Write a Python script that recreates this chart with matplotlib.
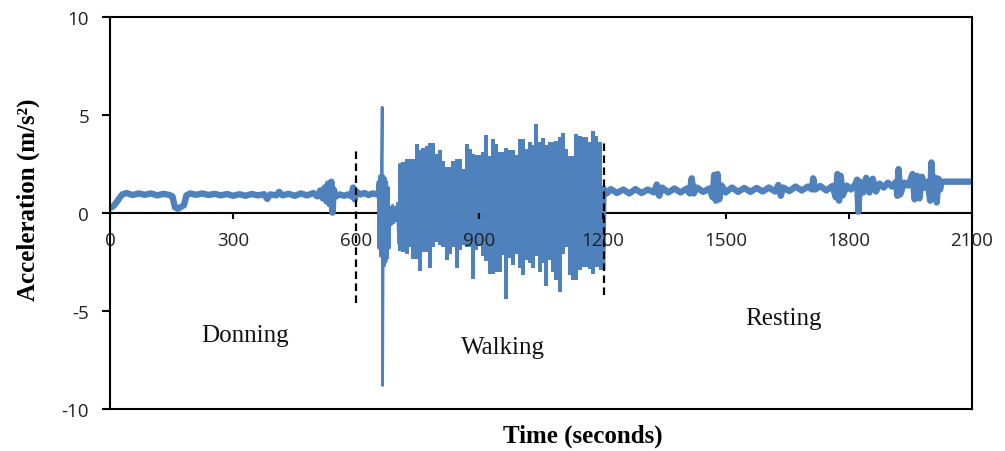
import numpy as np
import matplotlib
matplotlib.use("Agg")
import matplotlib.pyplot as plt

plt.rcParams["axes.unicode_minus"] = False
plt.rcParams["path.simplify"] = False

# ---------------- data ----------------
# Donning phase (time in s, acceleration in m/s^2)
donning_time = [0, 8, 16, 24, 30, 40, 55, 70, 85, 100, 115, 130, 145, 152, 158, 165,
                172, 180, 186, 195, 210, 225, 240, 255, 270, 285, 300, 315, 330, 345,
                360, 375, 383, 390, 405, 412, 420, 435, 450, 465, 480, 495, 505, 512,
                518, 523, 527, 531, 535, 539, 542, 545, 550, 560, 570, 580, 588, 592,
                596, 600, 610, 620, 630, 640, 650]
donning_accel = [0.25, 0.35, 0.55, 0.8, 0.95, 1.02, 0.92, 1.0, 0.93, 1.0, 0.9, 0.98, 0.92,
                 0.85, 0.3, 0.22, 0.3, 0.4, 0.9, 1.0, 0.93, 1.0, 0.92, 0.98, 0.9, 0.97,
                 0.88, 0.96, 0.88, 0.97, 0.9, 0.96, 0.72, 0.95, 0.9, 1.08, 0.9, 0.98,
                 0.88, 1.0, 0.9, 1.02, 0.85, 1.15, 0.75, 1.3, 0.6, 1.5, 0.45, 1.6, 0.02,
                 1.2, 0.85, 0.95, 0.88, 0.95, 0.85, 1.3, 0.7, 1.1, 0.95, 1.02, 0.92,
                 1.0, 0.95]

# Transition burst before steady walking
transition_time = [650, 653, 655, 657, 659, 661, 663, 664, 666, 668, 670, 672, 674, 676,
                   678, 680, 682, 685, 688, 691, 694, 697, 700, 703]
transition_accel = [0.95, 1.6, -1.8, 1.9, -2.2, 1.5, 5.4, -8.8, 1.9, -2.7, 1.8, -2.5, 1.6,
                    -2.3, 1.3, -1.8, 0.3, -0.6, 0.4, -0.5, 0.3, -0.4, 0.5, -1.5]

# Walking phase: peak (high) and trough (low) per ~8 s window
walk_start, walk_step = 706.0, 8.12
walk_high = [2.5, 2.6, 2.75, 2.75, 2.75, 3.5, 3.2, 3.3, 3.4, 3.55, 3.55, 3.0, 3.2, 2.67,
             2.35, 2.35, 2.67, 2.75, 2.75, 2.24, 3.5, 3.25, 3.0, 2.95, 2.95, 3.1, 4.0,
             2.9, 3.78, 3.5, 3.1, 3.1, 3.3, 3.2, 3.2, 2.95, 3.8, 3.8, 3.25, 3.6, 3.45,
             4.54, 3.6, 3.85, 3.45, 3.6, 3.6, 3.7, 3.9, 4.1, 3.25, 2.9, 2.9, 4.05, 3.95,
             3.9, 3.9, 3.6, 4.2, 3.95, 3.6]
walk_low = [-1.92, -2.0, -2.1, -1.75, -2.35, -2.35, -2.94, -2.0, -2.0, -2.8, -1.75, -1.5,
            -1.65, -1.75, -2.4, -2.1, -1.75, -2.8, -1.9, -1.65, -1.75, -1.75, -3.37, -1.9,
            -1.65, -2.2, -2.45, -3.1, -3.1, -3.0, -3.0, -2.15, -4.4, -2.3, -2.65, -2.1,
            -2.8, -3.15, -2.4, -2.55, -2.8, -2.2, -3.0, -2.55, -3.7, -2.4, -3.0, -3.4,
            -4.03, -2.1, -1.75, -3.15, -3.4, -3.4, -2.9, -2.75, -2.75, -2.85, -3.1,
            -2.75, -2.75]

# Resting phase
resting_time = [1199, 1202, 1210, 1220, 1235, 1250, 1265, 1280, 1295, 1310, 1325, 1332,
                1338, 1345, 1360, 1375, 1390, 1405, 1412, 1417, 1422, 1430, 1445, 1460,
                1468, 1472, 1476, 1480, 1484, 1490, 1500, 1515, 1530, 1545, 1560, 1575,
                1590, 1605, 1620, 1628, 1634, 1640, 1655, 1670, 1685, 1700, 1710, 1713,
                1718, 1730, 1745, 1760, 1768, 1772, 1776, 1780, 1785, 1795, 1805, 1815,
                1820, 1823, 1827, 1835, 1842, 1850, 1858, 1866, 1875, 1885, 1895, 1905,
                1915, 1918, 1921, 1925, 1935, 1945, 1955, 1960, 1966, 1972, 1978, 1985,
                1992, 1998, 2001, 2005, 2010, 2014, 2018, 2022, 2026, 2100]
resting_accel = [-2.75, 1.25, 1.0, 1.22, 1.02, 1.2, 1.0, 1.22, 1.02, 1.2, 1.05, 1.45, 0.88,
                 1.3, 1.05, 1.25, 1.05, 1.25, 1.0, 1.77, 1.0, 1.3, 1.08, 1.25, 0.8, 1.95,
                 0.63, 1.99, 0.7, 1.4, 1.05, 1.3, 1.08, 1.28, 1.08, 1.28, 1.1, 1.3, 1.1,
                 1.43, 0.88, 1.3, 1.12, 1.35, 1.15, 1.35, 1.2, 1.77, 1.2, 1.38, 1.15, 1.38,
                 0.8, 1.99, 0.63, 1.9, 0.9, 1.4, 1.2, 1.45, 1.7, 0.07, 1.6, 1.05, 1.8,
                 1.05, 1.75, 1.1, 1.5, 1.3, 1.55, 1.35, 1.6, 0.88, 2.24, 0.95, 1.55, 1.4,
                 1.99, 0.7, 1.9, 0.75, 1.85, 1.3, 1.6, 0.63, 2.58, 0.8, 1.8, 0.54, 1.75,
                 1.2, 1.6, 1.6]

phase_bounds = [600, 1203]
phase_bound_ymin = [-4.6, -4.2]
phase_bound_ymax = [3.2, 3.7]
phase_labels = ["Donning", "Walking", "Resting"]
phase_label_x = [329, 957, 1640]
phase_label_y = [-6.2, -6.85, -5.35]

xticks = [0, 300, 600, 900, 1200, 1500, 1800, 2100]
yticks = [-10, -5, 0, 5, 10]

# ---------------- figure ----------------
blue = "#4f81bd"
fig = plt.figure(figsize=(10.05, 4.52), dpi=100)
ax = fig.add_axes([0.1095, 0.093, 0.8577, 0.867])
ax.set_axisbelow(False)

ax.plot(donning_time, donning_accel, color=blue, lw=4.6, solid_joinstyle="round")
ax.plot(transition_time, transition_accel, color=blue, lw=2.0)

# walking: every ~8 s window spans its trough-to-peak swing
walk_time = walk_start + walk_step * np.arange(len(walk_high))
ax.vlines(walk_time, walk_low, walk_high, colors=blue, linewidths=2.9)
ax.plot([transition_time[-1], walk_time[0]], [transition_accel[-1], walk_high[0]],
        color=blue, lw=1.5)

ax.plot(resting_time, resting_accel, color=blue, lw=4.6, solid_joinstyle="round")

for xb, y0, y1 in zip(phase_bounds, phase_bound_ymin, phase_bound_ymax):
    ax.plot([xb, xb], [y0, y1], color="black", lw=1.6, linestyle=(0, (3.4, 2.0)))

for lab, lx, ly in zip(phase_labels, phase_label_x, phase_label_y):
    ax.text(lx, ly, lab, ha="center", va="center", fontsize=18,
            family="Liberation Serif", color="#111111")

ax.set_xlim(0, 2100)
ax.set_ylim(-10, 10)

ax.spines["bottom"].set_position(("data", 0))
for s in ax.spines.values():
    s.set_linewidth(1.5)
ax.spines["bottom"].set_zorder(1.5)
ax.axhline(-10, color="black", lw=1.5, clip_on=False)

ax.set_xticks(xticks)
ax.set_yticks(yticks)
ax.tick_params(axis="x", direction="out", length=4, width=1.5, pad=9,
               labelsize=13.5, labelcolor="#222222")
ax.tick_params(axis="y", direction="out", length=6, width=1.5, pad=9,
               labelsize=13.5, labelcolor="#222222")
for lab in ax.get_xticklabels() + ax.get_yticklabels():
    lab.set_family("Open Sans")

ax.set_xlabel("Time (seconds)", fontsize=18, fontweight="bold",
              family="Liberation Serif")
ax.xaxis.label.set_va("center")
ax.xaxis.set_label_coords(0.549, -0.066)
ax.set_ylabel("Acceleration (m/s²)", fontsize=18, fontweight="bold",
              family="Liberation Serif")
ax.yaxis.label.set_va("center")
ax.yaxis.set_label_coords(-0.095, 0.536)

fig.savefig("out.png", dpi=100)
